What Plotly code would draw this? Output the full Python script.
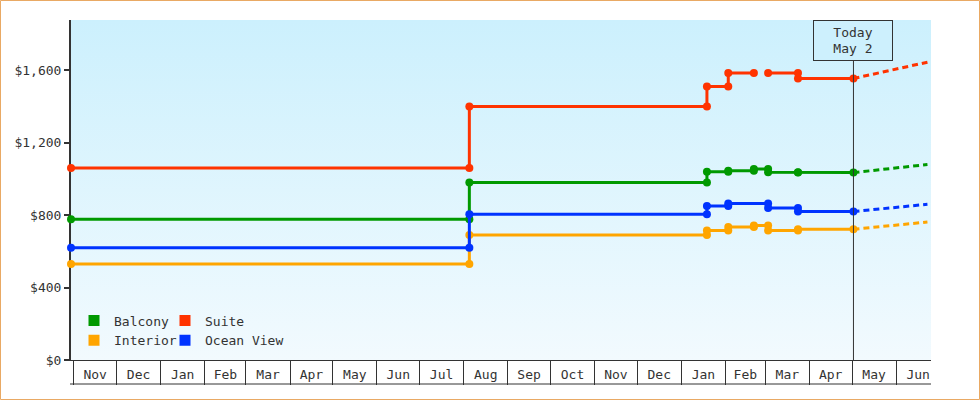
import plotly.graph_objects as go

# ---------------- data ----------------
range_start = "2023-10-30"
range_end = "2025-06-25 12:00"
today = "2025-05-02"
proj_end = "2025-06-23"

balcony_dates = ["2023-10-30", "2024-08-05", "2024-08-05", "2025-01-19", "2025-01-19",
                 "2025-02-03", "2025-02-03", "2025-02-21", "2025-02-21", "2025-03-03",
                 "2025-03-03", "2025-03-24", "2025-03-24", "2025-05-02"]
balcony_values = [778, 778, 980, 980, 1040, 1040, 1045, 1045, 1055, 1055, 1037, 1037, 1035, 1035]

suite_dates = ["2023-10-30", "2024-08-05", "2024-08-05", "2025-01-19", "2025-01-19",
               "2025-02-03", "2025-02-03", "2025-02-21", None, "2025-03-03",
               "2025-03-24", "2025-03-24", "2025-05-02"]
suite_values = [1060, 1060, 1400, 1400, 1510, 1510, 1585, 1585, None, 1585, 1585, 1555, 1555]

interior_dates = ["2023-10-30", "2024-08-05", "2024-08-05", "2025-01-19", "2025-01-19",
                  "2025-02-03", "2025-02-03", "2025-02-21", "2025-02-21", "2025-03-03",
                  "2025-03-03", "2025-03-24", "2025-03-24", "2025-05-02"]
interior_values = [530, 530, 690, 690, 715, 715, 735, 735, 743, 743, 715, 715, 722, 722]

ocean_dates = ["2023-10-30", "2024-08-05", "2024-08-05", "2025-01-19", "2025-01-19",
               "2025-02-03", "2025-02-03", "2025-03-03", "2025-03-03", "2025-03-24",
               "2025-03-24", "2025-05-02"]
ocean_values = [620, 620, 805, 805, 850, 850, 865, 865, 840, 840, 820, 820]

proj_dates = [today, proj_end]
balcony_proj = [1035, 1080]
suite_proj = [1555, 1645]
interior_proj = [722, 762]
ocean_proj = [820, 860]

y_ticks = [0, 400, 800, 1200, 1600]
y_tick_labels = ["$0", "$400", "$800", "$1,200", "$1,600"]
y_max = 1878

names = ["Balcony", "Suite", "Interior", "Ocean View"]
colors = {"Balcony": "#009900", "Suite": "#ff3300", "Interior": "#ffa500", "Ocean View": "#0033ff"}

FONT = "DejaVu Sans Mono"
TXT = "#333333"

fig = go.Figure()

# gradient plot background
fig.add_trace(go.Scatter(
    x=[range_start, range_end, range_end, range_start, range_start],
    y=[0, 0, y_max, y_max, 0],
    mode="lines", line=dict(width=0), fill="toself",
    fillgradient=dict(type="vertical", colorscale=[[0, "#f2fafe"], [1, "#ccf0fd"]]),
    hoverinfo="skip", showlegend=False,
))

series = [
    ("Balcony", balcony_dates, balcony_values, balcony_proj),
    ("Suite", suite_dates, suite_values, suite_proj),
    ("Interior", interior_dates, interior_values, interior_proj),
    ("Ocean View", ocean_dates, ocean_values, ocean_proj),
]
for name, d, v, p in series:
    c = colors[name]
    fig.add_trace(go.Scatter(
        x=proj_dates, y=p, mode="lines",
        line=dict(color=c, width=3, dash="6px,4px"),
        showlegend=False, hoverinfo="skip", cliponaxis=False,
    ))
    fig.add_trace(go.Scatter(
        x=d, y=v, mode="lines+markers", name=name,
        line=dict(color=c, width=3), marker=dict(color=c, size=8),
        connectgaps=False, showlegend=False, cliponaxis=False,
    ))

# legend entries (square swatches), two columns
legend_of = {"Balcony": "legend", "Interior": "legend", "Suite": "legend2", "Ocean View": "legend2"}
for name in ["Balcony", "Interior", "Suite", "Ocean View"]:
    fig.add_trace(go.Scatter(
        x=[None], y=[None], mode="markers", name=name,
        marker=dict(symbol="square", size=11, color=colors[name]),
        legend=legend_of[name], showlegend=True,
    ))

legend_common = dict(
    orientation="v", xanchor="left", yanchor="middle",
    bgcolor="rgba(0,0,0,0)", borderwidth=0,
    font=dict(family=FONT, size=13, color=TXT),
    itemwidth=30, tracegroupgap=0, traceorder="normal",
)

fig.update_layout(
    width=980, height=400,
    margin=dict(l=71, r=49, t=20, b=40),
    paper_bgcolor="white", plot_bgcolor="white",
    font=dict(family=FONT, size=13, color=TXT),
    legend=dict(x=(74 - 71) / 860, y=(360 - 330.5) / 340, **legend_common),
    legend2=dict(x=(165 - 71) / 860, y=(360 - 330.5) / 340, **legend_common),
    hovermode=False,
    xaxis=dict(
        type="date", range=[range_start, range_end],
        tick0="2023-11-01", dtick="M1", tickformat="%b", ticklabelmode="period",
        ticks="outside", ticklen=24, tickwidth=1, tickcolor=TXT,
        ticklabelstandoff=-22,
        showline=True, linecolor=TXT, linewidth=1,
        showgrid=False, zeroline=False, layer="below traces",
        tickfont=dict(family=FONT, size=13, color=TXT),
    ),
    yaxis=dict(
        range=[0, y_max], tickmode="array", tickvals=y_ticks, ticktext=y_tick_labels,
        ticks="outside", ticklen=5, tickwidth=2, tickcolor=TXT,
        showline=True, linecolor=TXT, linewidth=2,
        showgrid=False, zeroline=False, layer="below traces",
        tickfont=dict(family=FONT, size=13, color=TXT),
    ),
)

# bottom line of the month cells
fig.add_shape(type="line", xref="paper", yref="paper",
              x0=-1 / 860, x1=1, y0=-24 / 340, y1=-24 / 340,
              line=dict(color=TXT, width=1))

# today marker line and label
fig.add_shape(type="line", xref="x", yref="paper", x0=today, x1=today, y0=0, y1=1,
              line=dict(color=TXT, width=1), layer="above")
fig.add_annotation(
    x=today, xref="x", y=1, yref="paper", xanchor="center", yanchor="top",
    text="Today<br>May 2", showarrow=False,
    font=dict(family=FONT, size=13, color=TXT),
    bgcolor="#cdf0fd", bordercolor=TXT, borderwidth=1, borderpad=1,
    width=76, height=37,
)

# outer orange frame
fig.add_shape(type="rect", xref="paper", yref="paper",
              x0=(0.5 - 71) / 860, x1=(979.5 - 71) / 860,
              y0=(360 - 399.5) / 340, y1=(360 - 0.5) / 340,
              line=dict(color="#e9a964", width=1), fillcolor="rgba(0,0,0,0)")

fig.write_html(
    "out.html",
    config={"displayModeBar": False, "staticPlot": True},
    post_script="document.body.style.margin='0px';document.body.style.overflow='hidden';",
)
